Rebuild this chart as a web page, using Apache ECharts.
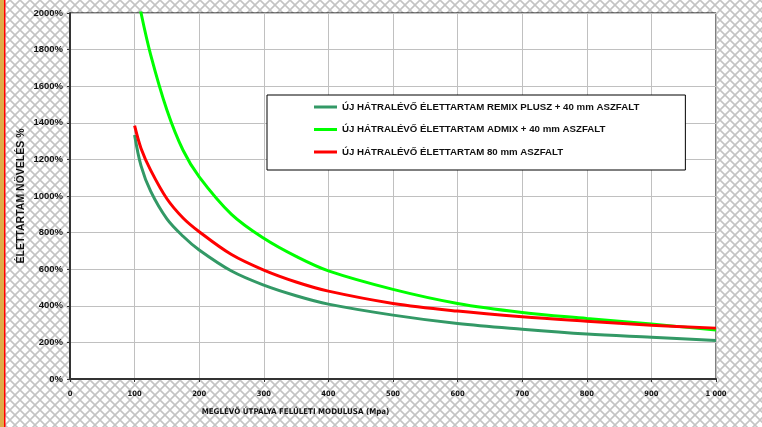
<!DOCTYPE html>
<html>
<head>
<meta charset="utf-8">
<script src="https://cdn.jsdelivr.net/npm/echarts@6/dist/echarts.min.js"></script>
<style>
html,body{margin:0;padding:0;width:762px;height:427px;overflow:hidden;}
#c{width:762px;height:427px;
background-color:#fff;
background-image:url("data:image/svg+xml;utf8,<svg xmlns='http://www.w3.org/2000/svg' width='10' height='10'><path d='M0 0L10 10M10 0L0 10' stroke='%23c4c4c4' stroke-width='1.6'/></svg>");
background-size:10px 10px;}
</style>
</head>
<body>
<div id="c"></div>
<script>
var modulus = [100,110,125,150,175,200,250,300,350,400,500,600,700,800,900,1000];
var remixPlusz = [1334,1165,1025,875,780,705,590,513,455,409,349,303,272,246,228,210];
var admix = [2190,2000,1770,1470,1250,1105,900,769,670,591,490,413,364,331,300,268];
var aszfalt80 = [1384,1260,1140,985,880,805,680,595,530,480,413,371,340,316,294,278];
var seriesNames = [
  'ÚJ HÁTRALÉVŐ ÉLETTARTAM REMIX PLUSZ + 40 mm ASZFALT',
  'ÚJ HÁTRALÉVŐ ÉLETTARTAM ADMIX + 40 mm ASZFALT',
  'ÚJ HÁTRALÉVŐ ÉLETTARTAM 80 mm ASZFALT'
];
var colors = ['#339966','#00ff00','#ff0000'];
var xAxisName = 'MEGLÉVŐ ÚTPÁLYA FELÜLETI MODULUSA (Mpa)';
var yAxisName = 'ÉLETTARTAM NÖVELÉS %';

function pairs(ys){ return modulus.map(function(x,i){ return [x, ys[i]]; }); }
var allSeries = [remixPlusz, admix, aszfalt80];

var chart = echarts.init(document.getElementById('c'), null, {renderer:'canvas'});
var narrow = "'Liberation Sans Narrow','Arial Narrow','DejaVu Sans Condensed','Liberation Sans',Arial,sans-serif";
var sans = "'Liberation Sans',Arial,sans-serif";
chart.setOption({
  backgroundColor: 'transparent',
  animation: false,
  grid: {left:70, top:13, right:46, bottom:48, show:true, backgroundColor:'#ffffff', borderColor:'#000', borderWidth:1},
  legend: {
    orient:'vertical', left:267, top:95, align:'left',
    padding:[6,46,12,47], itemGap:10.5, itemWidth:23, itemHeight:3,
    backgroundColor:'#fff', borderColor:'#000', borderWidth:1,
    textStyle:{fontFamily:sans, fontWeight:'bold', fontSize:9.7, color:'#111', lineHeight:12},
    data: seriesNames.map(function(n){ return {name:n, icon:'rect'}; })
  },
  xAxis: {
    type:'value', min:0, max:1000, interval:100,
    name:xAxisName, nameLocation:'middle', nameGap:29, nameMoveOverlap:false,
    nameTextStyle:{fontFamily:narrow, fontWeight:'bold', fontSize:7.9, color:'#111', padding:[0,195,0,0]},
    axisLine:{show:true, lineStyle:{color:'#333', width:2}},
    axisTick:{show:true, length:3, lineStyle:{color:'#333'}},
    axisLabel:{fontFamily:narrow, fontWeight:'bold', fontSize:7.5, color:'#111', margin:11,
      formatter:function(v){ return v===1000 ? '1 000' : String(v); }},
    splitLine:{show:true, lineStyle:{color:'#c0c0c0', width:1}}
  },
  yAxis: {
    type:'value', min:0, max:2000, interval:200,
    name:yAxisName, nameLocation:'middle', nameGap:43, nameRotate:90, nameMoveOverlap:false,
    nameTextStyle:{fontFamily:sans, fontWeight:'bold', fontSize:10.5, color:'#111'},
    axisLine:{show:true, lineStyle:{color:'#333', width:2}},
    axisTick:{show:true, length:3, lineStyle:{color:'#333'}},
    axisLabel:{fontFamily:sans, fontWeight:'bold', fontSize:9.5, color:'#111', margin:7,
      formatter:function(v){ return String(v) + '%'; }},
    splitLine:{show:true, lineStyle:{color:'#c0c0c0', width:1}}
  },
  graphic: [
    {type:'rect', left:0, top:0, shape:{width:4, height:427}, style:{fill:'#e0ac48'}},
    {type:'rect', left:4, top:0, shape:{width:1.5, height:427}, style:{fill:'#ff0000'}}
  ],
  series: allSeries.map(function(ys,i){
    return {
      name: seriesNames[i], type:'line', data: pairs(ys),
      smooth: 0.35, showSymbol:false, symbol:'none', clip:true,
      color: colors[i],
      lineStyle:{color:colors[i], width:3}
    };
  })
});
</script>
</body>
</html>
